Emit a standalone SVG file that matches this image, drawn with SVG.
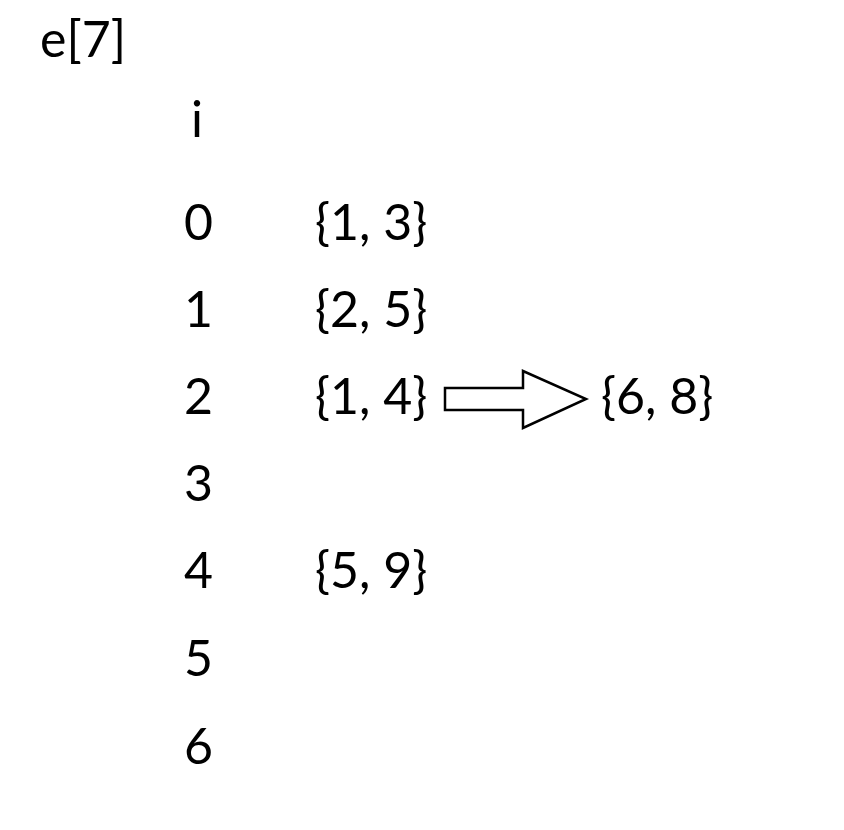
<svg xmlns="http://www.w3.org/2000/svg" width="844" height="830" viewBox="0 0 844 830">
<style>
text{font-family:"Lato","Open Sans","Noto Sans",sans-serif;font-size:50px;fill:#000}
.arrow{fill:#fff;stroke:#000;stroke-width:2.5;stroke-linejoin:miter}
</style>
<rect width="844" height="830" fill="#fff"/>
<g id="title"><text x="40" y="57">e[7]</text></g>
<g id="header"><text x="191" y="137">i</text></g>
<g id="row0"><text x="184" y="240">0</text><text x="315" y="240">{1, 3}</text></g>
<g id="row1"><text x="184" y="327">1</text><text x="315" y="327">{2, 5}</text></g>
<g id="row2"><text x="184" y="414">2</text><text x="315" y="414">{1, 4}</text></g>
<g id="row3"><text x="184" y="501">3</text></g>
<g id="row4"><text x="184" y="588">4</text><text x="315" y="588">{5, 9}</text></g>
<g id="row5"><text x="184" y="676">5</text></g>
<g id="row6"><text x="184" y="764">6</text></g>
<g id="chain"><text x="601" y="414">{6, 8}</text></g>
<g id="connectors">
<path class="arrow" d="M445,388 H523 V371 L586,399 L523,428 V410 H445 Z"/>
</g>
</svg>
